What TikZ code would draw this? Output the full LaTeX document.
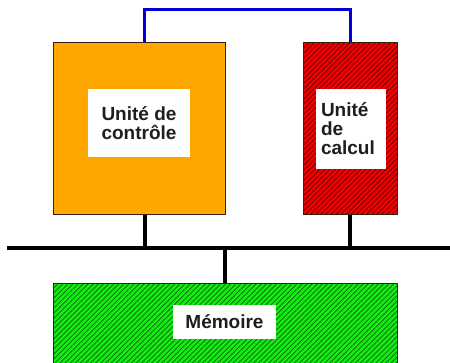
\documentclass[tikz,border=0pt]{standalone}
\usepackage{fontspec}
\setmainfont{Liberation Sans}
\usetikzlibrary{patterns.meta,calc}
\definecolor{ctrlorange}{RGB}{255,166,0}
\definecolor{calcred}{RGB}{240,0,0}
\definecolor{memgreen}{RGB}{20,235,20}
\definecolor{edge}{RGB}{60,30,20}
\definecolor{labeltext}{RGB}{30,30,30}
\begin{document}
\begin{tikzpicture}[x=1pt,y=-1pt,
  unitbox/.style={draw=edge, line width=0.9pt, inner sep=0pt, anchor=north west},
  hatched/.style={preaction={fill=#1},
    pattern={Lines[angle=45, distance=3.6pt, line width=0.7pt]},
    pattern color=black!60!#1},
  tag/.style={fill=white, inner sep=0pt, text=labeltext,
    font=\bfseries\fontsize{19}{19}\selectfont},
  bus/.style={line width=4pt, black},
  link/.style={line width=3pt, blue!85!black}]
\useasboundingbox (0,0) rectangle (450,362);

% processing units and memory
\node[unitbox, fill=ctrlorange, minimum width=172pt, minimum height=172pt] (ctrl) at (53,42) {};
\node[unitbox, hatched=calcred, minimum width=94pt, minimum height=172pt] (alu) at (303,42) {};
\node[unitbox, hatched=memgreen, minimum width=344pt, minimum height=90pt] (mem) at (53,283) {};

% white label panels
\node[tag, minimum width=102pt, minimum height=68pt, align=center] (ctrltag) at (139,123) {Unité de\\contrôle};
\node[tag, minimum width=70pt, minimum height=80pt, text width=60pt, align=left] (alutag) at (351,129) {Unité\\de\\calcul};
\node[tag, minimum width=103pt, minimum height=34pt] (memtag) at (224.5,322) {Mémoire};

% system bus
\coordinate (busL) at (7,248);
\coordinate (busR) at (452,248);
\coordinate (ctrlport) at ($(ctrl.north west)!0.53!(ctrl.north east)$);
\coordinate (ctrlbottom) at ($(ctrl.south west)!0.53!(ctrl.south east)$);
\draw[bus] (busL) -- (busR);
\draw[bus] (ctrlbottom) -- (ctrlbottom |- busL);
\draw[bus] (alu.south) -- (alu.south |- busL);
\draw[bus] (mem.north) -- (mem.north |- busL);

% direct control link
\draw[link] (ctrlport) -- ++(0,-33) -| (alu.north);
\end{tikzpicture}
\end{document}
